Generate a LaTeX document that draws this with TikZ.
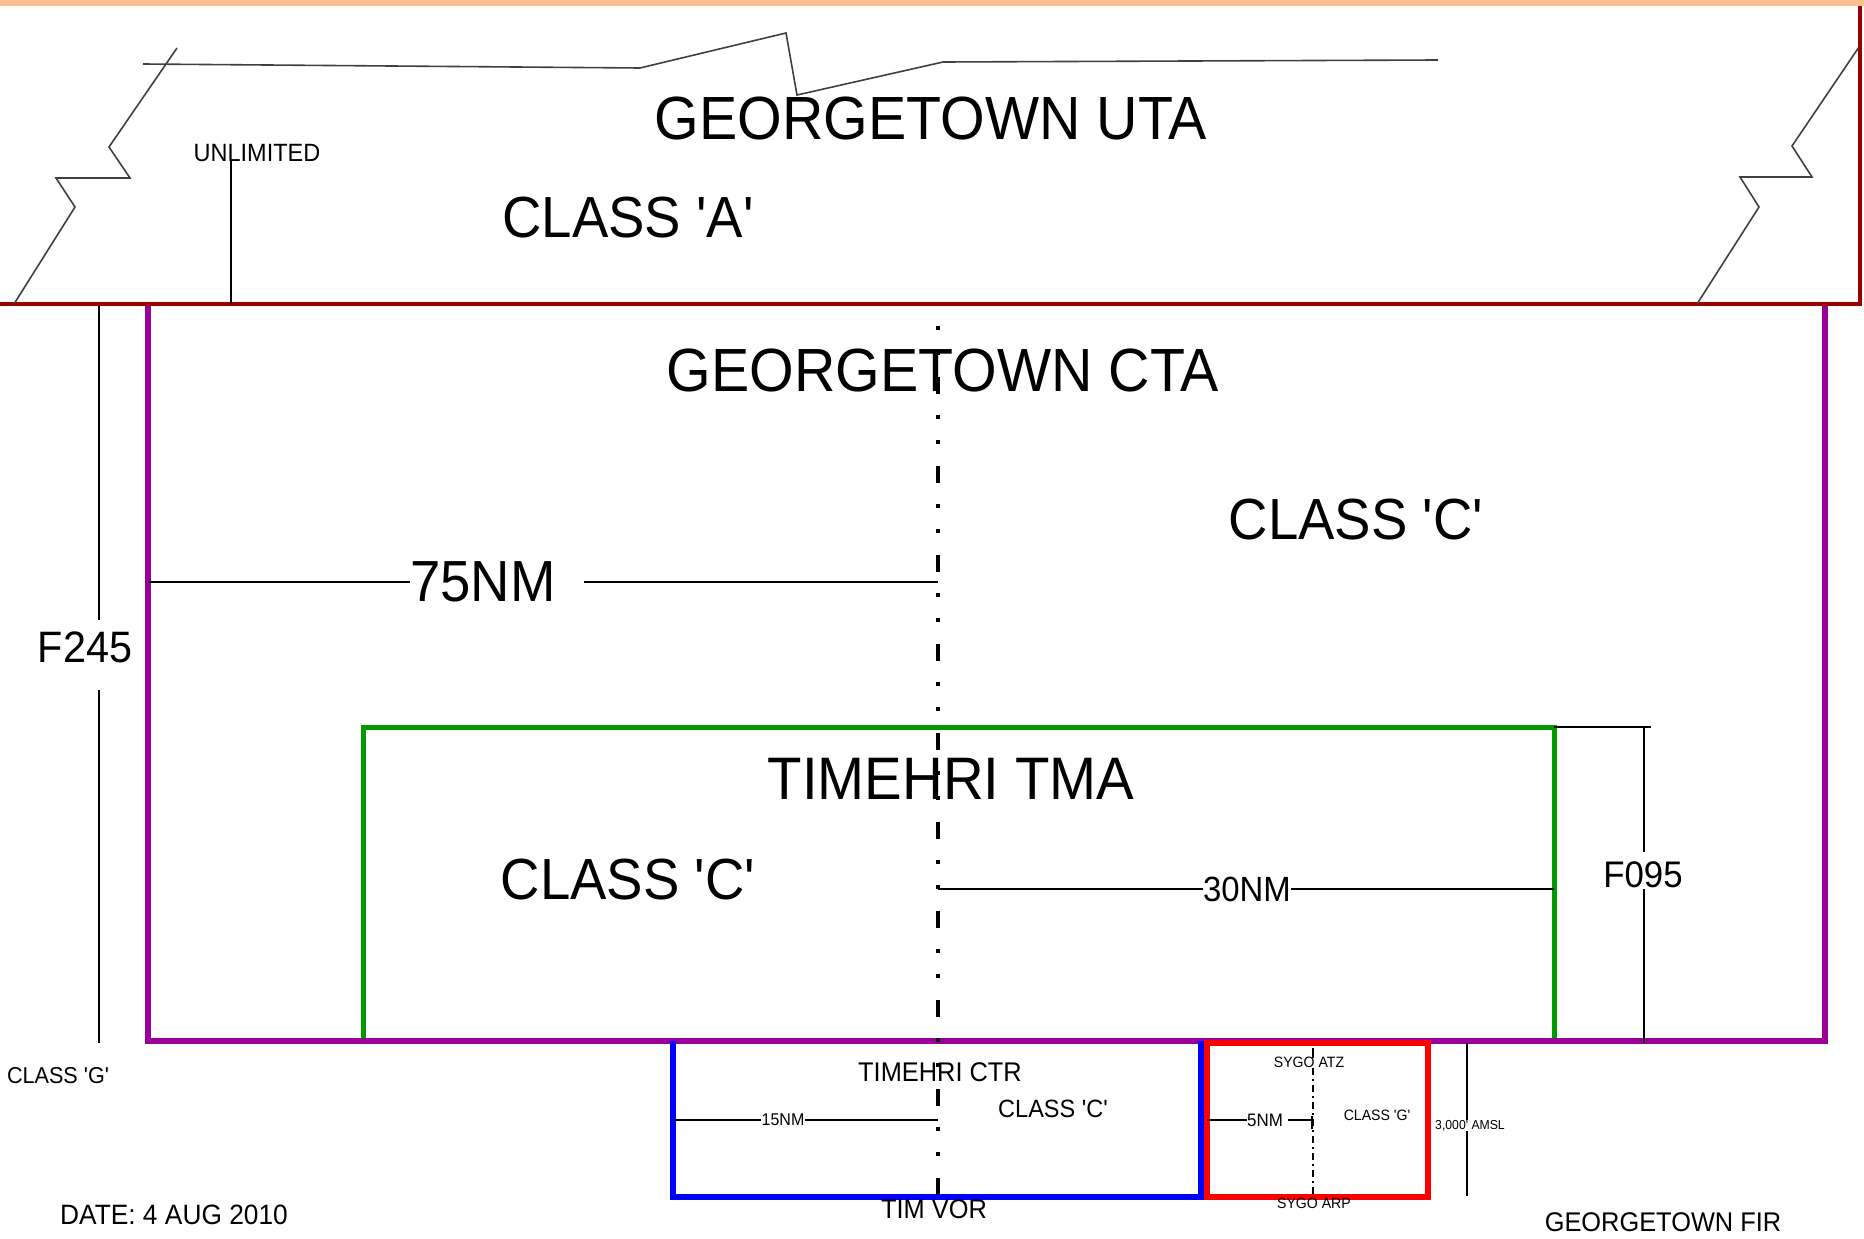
\documentclass[tikz,border=0pt]{standalone}
\usepackage{fontspec}
\setmainfont{Liberation Sans}[FakeStretch=0.94, Ligatures=TeXOff]
\newcommand{\fsz}[1]{\fontsize{#1}{#1}\selectfont}
\definecolor{barorange}{RGB}{250,192,143}
\definecolor{utared}{RGB}{153,0,0}
\definecolor{ctapurple}{RGB}{153,0,153}
\definecolor{tmagreen}{RGB}{0,153,0}
\definecolor{ctrblue}{RGB}{0,0,255}
\definecolor{atzred}{RGB}{255,0,0}
\begin{document}
\begin{tikzpicture}[x=1pt,y=-1pt,
  lbl/.style={inner sep=0pt, text=black},
  dim/.style={line width=1.5pt, black},
  brk/.style={line width=1.6pt, black!75},
  uta/.style={line width=4.5pt, utared},
  cta/.style={line width=5.5pt, ctapurple, line join=miter},
  tma/.style={line width=5pt, tmagreen},
  ctr/.style={line width=5.5pt, ctrblue},
  atz/.style={line width=6.5pt, atzred},
  axis/.style={line width=4pt, black, dash pattern=on 17pt off 21pt on 4pt off 21pt on 4pt off 22pt, dash phase=18pt},
  axisthin/.style={line width=1.8pt, black, dash pattern=on 7pt off 4pt on 1.5pt off 4.5pt}]
\useasboundingbox (0,0) rectangle (1864,1239);
\fill[barorange] (0,0) rectangle (1864,6);

% key coordinates
\coordinate (ctaTL) at (148,304);
\coordinate (ctaBL) at (148,1041);
\coordinate (ctaBR) at (1825,1041);
\coordinate (ctaTR) at (1825,304);
\coordinate (tmaBL) at (363,1041);
\coordinate (tmaTL) at (363,727);
\coordinate (tmaTR) at (1554,727);
\coordinate (tmaBR) at (1554,1041);
\coordinate (ctrTL) at (673,1041);
\coordinate (ctrBL) at (673,1197);
\coordinate (ctrBR) at (1201,1197);
\coordinate (ctrTR) at (1201,1041);
\coordinate (atzTL) at (1207,1043);
\coordinate (atzBR) at (1428,1197);
\coordinate (utaL) at (0,304);
\coordinate (utaBR) at (1860,304);
\coordinate (utaTR) at (1860,6);
\coordinate (axTop) at (938,306);
\coordinate (axBot) at (938,1197);

% airspace outlines
\draw[tma] (tmaBL) -- (tmaTL) -- (tmaTR) -- (tmaBR);
\draw[cta] (ctaTL) -- (ctaBL) -- (ctaBR) -- (ctaTR);
\draw[ctr] (ctrTL) -- (ctrBL) -- (ctrBR) -- (ctrTR);
\draw[atz] (atzTL) rectangle (atzBR);
\draw[uta] (utaL) -- (utaBR) -- (utaTR);

% top boundary and break lines
\draw[brk] (143,64) -- (640,68) -- (786,33) -- (797,95) -- (943,62) -- (1438,60);
\draw[brk] (177,48) -- (109,147) -- (130,178) -- (56,178) -- (75,207) -- (14,304);
\draw[brk] (1859,47) -- (1792,146) -- (1812,177) -- (1740,177) -- (1759,207) -- (1697,304);

% centre axis
\draw[axis] (axTop) -- (axBot);

% texts
\node[lbl, font=\fsz{61}] (uta) at (931,119) {GEORGETOWN UTA};
\node[lbl, font=\fsz{58}] (clA) at (628,218) {CLASS 'A'};
\node[lbl, font=\fsz{25}] (unl) at (257,153) {UNLIMITED};
\node[lbl, font=\fsz{61}] (cta) at (943,370) {GEORGETOWN CTA};
\node[lbl, font=\fsz{58}] (clC1) at (1356,520) {CLASS 'C'};
\node[lbl, font=\fsz{58}] (n75) at (483,582) {75NM};
\node[lbl, font=\fsz{44}] (f245) at (85,647) {F245};
\node[lbl, font=\fsz{60}] (tma) at (951,779) {TIMEHRI TMA};
\node[lbl, font=\fsz{58}] (clC2) at (628,880) {CLASS 'C'};
\node[lbl, font=\fsz{35}] (n30) at (1247,889) {30NM};
\node[lbl, font=\fsz{37}] (f095) at (1643,875) {F095};
\node[lbl, font=\fsz{27}] (ctr) at (940,1072) {TIMEHRI CTR};
\node[lbl, font=\fsz{25}] (clC3) at (1053,1109) {CLASS 'C'};
\node[lbl, font=\fsz{17}] (n15) at (783,1120) {15NM};
\node[lbl, font=\fsz{27}] (vor) at (934,1209) {TIM VOR};
\node[lbl, font=\fsz{15}] (atz) at (1309,1062) {SYGO ATZ};
\node[lbl, font=\fsz{18}] (n5) at (1265,1120) {5NM};
\node[lbl, font=\fsz{15}] (clG1) at (1377,1115) {CLASS 'G'};
\node[lbl, font=\fsz{15}] (arp) at (1314,1203) {SYGO ARP};
\node[lbl, font=\fsz{13}] (amsl) at (1470,1126) {3,000' AMSL};
\node[lbl, font=\fsz{23}] (clG2) at (58,1076) {CLASS 'G'};
\node[lbl, font=\fsz{28}] (date) at (174,1215) {DATE: 4 AUG 2010};
\node[lbl, font=\fsz{27}] (fir) at (1663,1222) {GEORGETOWN FIR};

% dimension lines
\coordinate (unlB) at (231,304);
\draw[dim] (unl.south -| unlB) ++(0,-2) -- (unlB);

\coordinate (f245T) at (99,306);
\coordinate (f245B) at (99,1043);
\draw[dim] (f245T) -- (99,620);
\draw[dim] (99,690) -- (f245B);

\draw[dim] (n75.west -| ctaTL) -- (n75.west);
\draw[dim] ([xshift=28pt]n75.east) -- (n75.east -| axTop);

\draw[dim] (n30.west -| axTop) -- (n30.west);
\draw[dim] (n30.east) -- (n30.east -| tmaTR);

\coordinate (f095T) at (1644,727);
\coordinate (f095B) at (1644,1043);
\draw[dim] (tmaTR) -- (1651,727);
\draw[dim] (f095T) -- (1644,852);
\draw[dim] (1644,889) -- (f095B);

\draw[dim] (n15.west -| ctrTL) -- (n15.west);
\draw[dim] (n15.east) -- (n15.east -| axTop);

\coordinate (atzAx) at (1313,1197);
\draw[dim, line width=1.8pt] (1313,1048) -- (1313,1058);
\draw[axisthin] (1313,1068) -- (atzAx);
\draw[dim] (n5.west -| atzTL) -- (n5.west);
\draw[dim] ([xshift=5pt]n5.east) -- (n5.east -| atzAx);
\draw[dim] (1312,1116) -- (1312,1129);

\coordinate (amslT) at (1467,1043);
\coordinate (amslB) at (1467,1196);
\draw[dim] (amslT) -- (1467,1120);
\draw[dim] (1467,1131) -- (amslB);
\end{tikzpicture}
\end{document}
